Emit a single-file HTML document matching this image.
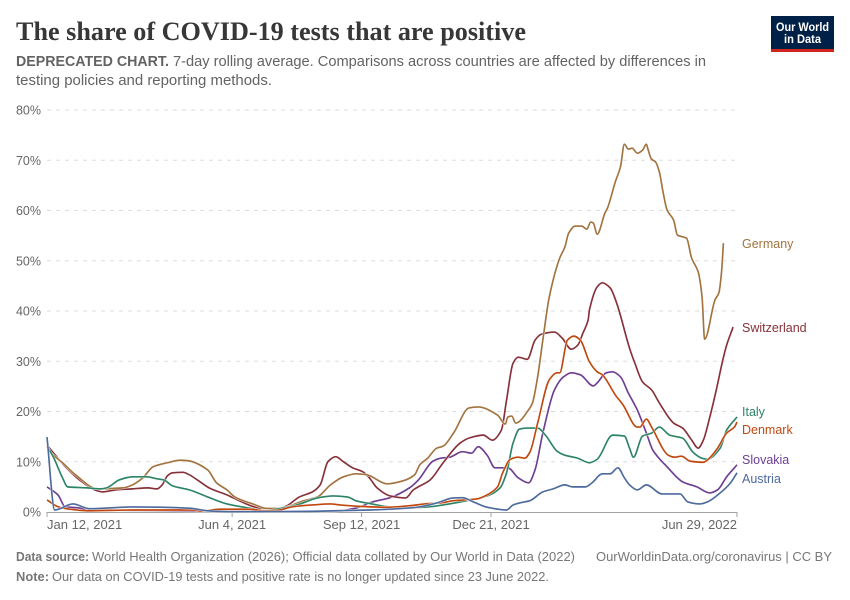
<!DOCTYPE html>
<html lang="en">
<head>
<meta charset="utf-8">
<title>The share of COVID-19 tests that are positive</title>
<style>
html,body{margin:0;padding:0;background:#fff;}
svg{display:block;font-family:"Liberation Sans",sans-serif;}
</style>
</head>
<body>
<svg id="chart" width="850" height="600" viewBox="0 0 850 600" xmlns="http://www.w3.org/2000/svg">
  <rect width="850" height="600" fill="#fff"/>
  <text x="16" y="40" font-family="'Liberation Serif',serif" font-weight="700" font-size="26" fill="#373737" textLength="510" lengthAdjust="spacingAndGlyphs">The share of COVID-19 tests that are positive</text>
  <text x="16" y="66" font-size="14.5" font-weight="700" fill="#636363" textLength="153" lengthAdjust="spacingAndGlyphs">DEPRECATED CHART.</text>
  <text x="173" y="66" font-size="14.5" fill="#636363" textLength="533" lengthAdjust="spacingAndGlyphs">7-day rolling average. Comparisons across countries are affected by differences in</text>
  <text x="16" y="85" font-size="14.5" fill="#636363" textLength="256" lengthAdjust="spacingAndGlyphs">testing policies and reporting methods.</text>

  <g>
    <rect x="771" y="16" width="63" height="36" fill="#002147"/>
    <rect x="771" y="49" width="63" height="3" fill="#ce261e"/>
    <text x="802.5" y="31" font-size="11.5" font-weight="700" fill="#fff" text-anchor="middle" textLength="53" lengthAdjust="spacingAndGlyphs">Our World</text>
    <text x="802.5" y="43" font-size="11.5" font-weight="700" fill="#fff" text-anchor="middle" textLength="37" lengthAdjust="spacingAndGlyphs">in Data</text>
  </g>

  <g id="grid"></g>
  <g id="xaxis"></g>
  <g id="series"></g>
  <g id="labels"></g>

  <text x="16" y="561" font-size="13" font-weight="700" fill="#777777" textLength="73" lengthAdjust="spacingAndGlyphs">Data source:</text>
  <text x="92" y="561" font-size="13" fill="#777777" textLength="483" lengthAdjust="spacingAndGlyphs">World Health Organization (2026); Official data collated by Our World in Data (2022)</text>
  <text x="596" y="561" font-size="13" fill="#777777" textLength="236" lengthAdjust="spacingAndGlyphs">OurWorldinData.org/coronavirus | CC BY</text>
  <text x="16" y="581" font-size="13" font-weight="700" fill="#777777" textLength="33" lengthAdjust="spacingAndGlyphs">Note:</text>
  <text x="52" y="581" font-size="13" fill="#777777" textLength="497" lengthAdjust="spacingAndGlyphs">Our data on COVID-19 tests and positive rate is no longer updated since 23 June 2022.</text>
</svg>

<script>
// Axis data (x values are days since 12 January 2021)
const yTickValues = [0, 10, 20, 30, 40, 50, 60, 70, 80];
const xTickDays = [0, 143, 243, 343, 533];
const xTickLabels = ["Jan 12, 2021", "Jun 4, 2021", "Sep 12, 2021", "Dec 21, 2021", "Jun 29, 2022"];

// Series data
const slovakiaDays = [0,8.5,14,25,33,72,118,172,224,239,252,265,280,287,298,304,311,321,328,333,340,346,352,356,364,372,377,383,392,399,405,412,422,425,432,437,443,449,456,463,468,479,491,502,512,518,525,531,533];
const slovakiaValues = [5,3.4,1.05,0.8,0.4,0.3,0.2,0.1,0.2,0.8,2.05,2.85,4.8,6.4,10.1,10.7,10.9,12,11.7,13,11.3,8.8,8.8,8.8,6.8,5.8,8.4,15.7,24.3,26.9,27.7,27.3,25.1,25.7,27.7,27.9,26.9,23.7,20.3,15.7,12.3,9,6,5,3.8,4.4,7,8.8,9.4];

const switzerlandDays = [0,8.5,15,25,39,43,53,66,78,85,89,93,97,105,110,116,126,139,144,159,170,178,185,195,205,211,217,223,229,236,244,249,255,265,277,283,296,306,319,327,337,344,351,355,360,364,371,377,382,392,398,405,410,414,418,419,425,429,435,440,450,454,460,467,473,484,491,498,503,507,512,517,522,525,530];
const switzerlandValues = [13.3,10.7,8.8,6.4,4.2,4,4.4,4.6,4.8,4.6,5.4,7.2,7.8,7.9,7.4,6.4,4.7,3.4,2.8,1.1,0.4,0.6,1.2,3,4,5.4,10,11,10,8.8,8,6.8,4.8,3.2,2.8,4.4,6.4,9.8,13.7,14.8,15.3,14.3,16.3,22.3,29.6,30.8,30.4,34.2,35.4,35.8,34.6,32.4,33.2,35.6,38.2,40.2,44.8,45.6,44.6,41.6,32.6,29.7,25.9,24.3,21.7,17.7,16.7,14.3,12.7,14.3,18.9,24.3,30.2,33.2,36.8];

const germanyDays = [0,3,12,22,39,59,66,74,82,93,103,109,124,131,139,145,159,170,180,185,198,209,219,229,239,247,263,275,284,288,294,301,306,314,326,333,348,354,356,359,362,373,375,379,383,388,396,400,403,408,413,417,420,422,425,431,433,439,443,446,449,452,456,460,463,464,467,470,473,476,479,484,487,494,498,503,506,508,516,519,521,522.5];
const germanyValues = [13,11.8,9.8,7.4,4.6,4.8,5.4,6.8,9,9.8,10.3,10.2,8.4,5.8,4.4,3,1.6,0.7,0.7,1,2.2,3,5.4,7,7.6,7.4,5.6,6.2,7.4,9.4,10.7,12.7,13.1,15.7,20.7,20.9,19.3,17.5,18.9,19.1,17.7,20.7,21.7,26.9,34.2,42.8,50.5,52.7,55.5,56.9,56.9,56.3,57.7,57.5,55.3,59.5,60.5,65.7,68.7,73.2,72.2,72.4,71.4,72,73.2,72.4,70.2,69.7,67.7,63.5,60.1,58.1,55.1,54.5,50.5,47.8,42.8,34.4,42.2,43.6,47.6,53.5];

const italyDays = [1,5,12,16,31,41,46,56,66,77,85,90,97,110,124,139,151,170,178,193,209,221,232,239,249,263,280,294,306,327,340,350,355,360,365,371,379,385,394,400,410,419,425,437,446,450,453,460,467,473,481,491,499,506,510,520,525,533];
const italyValues = [12.7,10.9,6.8,5,4.8,4.6,4.8,6.4,7,7,6.6,6.4,5.2,4.4,3,1.6,1,0.3,0.6,1.4,2.8,3.2,3,2.2,1.7,1.05,0.85,1,1.4,2.4,3.2,4.8,7.8,13.7,16.5,16.7,16.7,15.3,12.1,11.3,10.7,9.8,10.5,15.3,15.1,12.7,10.9,15.1,15.7,16.9,15.3,14.7,11.9,10.7,10.5,12.7,16.3,18.9];

const denmarkDays = [0,8.5,15,31,66,113,118,134,157,167,178,190,205,219,226,247,263,280,294,304,314,332,340,348,352,358,364,369,373,379,388,394,396,402,407,412,419,425,429,439,445,456,458,463,467,480,485,490,497,507,510,518,525,531,533];
const denmarkValues = [2.4,1.05,0.65,0.25,0.4,0.4,0.2,0.55,0.55,0.25,0.35,1.05,1.4,1.6,1.4,1.05,0.95,1.25,1.65,1.8,2.25,2.6,3.4,5,7.8,10.5,10.9,10.7,11.9,17.7,26.3,27.7,27.7,34.2,35,34.2,29.9,27.9,27.3,23.3,21.3,16.9,16.9,18.5,16.9,11.3,10.9,11.1,10.1,9.9,10.3,12.7,15.7,16.9,17.9];

const austriaDays = [0,6,20,33,66,87,110,124,144,195,224,249,283,301,314,321,329,340,355,360,365,373,383,391,400,406,416,421,429,435,441,446,450,456,463,475,489,495,504,510,520,528,533];
const austriaValues = [14.9,0.4,1.6,0.65,1,0.95,0.75,0.25,0.05,0.1,0.25,0.4,0.85,1.8,2.8,2.85,2.05,0.95,0.4,1.4,1.8,2.25,4,4.6,5.4,5,5,5.8,7.6,7.6,8.8,6.8,5.4,4.4,5.4,3.6,3.6,2,1.6,2,3.8,5.8,7.8];

const NS = "http://www.w3.org/2000/svg";
const plot = { left: 47, right: 737, bottom: 512, top: 110, maxDay: 533, maxValue: 80 };

function xScale(day) {
  return plot.left + (day / plot.maxDay) * (plot.right - plot.left);
}
function yScale(value) {
  return plot.bottom - (value / plot.maxValue) * (plot.bottom - plot.top);
}

// Monotone cubic path through the data points
function linePath(days, values) {
  const xs = days.map(xScale);
  const ys = values.map(yScale);
  const n = xs.length;
  const slopes = [];
  for (let i = 0; i < n - 1; i++) {
    slopes.push((ys[i + 1] - ys[i]) / (xs[i + 1] - xs[i]));
  }
  const tangents = [slopes[0]];
  for (let i = 1; i < n - 1; i++) {
    const a = slopes[i - 1];
    const b = slopes[i];
    tangents.push(a * b <= 0 ? 0 : (2 * a * b) / (a + b));
  }
  tangents.push(slopes[n - 2]);
  let d = "M" + xs[0].toFixed(2) + "," + ys[0].toFixed(2);
  for (let i = 0; i < n - 1; i++) {
    const h = (xs[i + 1] - xs[i]) / 3;
    d += "C" + (xs[i] + h).toFixed(2) + "," + (ys[i] + tangents[i] * h).toFixed(2) +
         " " + (xs[i + 1] - h).toFixed(2) + "," + (ys[i + 1] - tangents[i + 1] * h).toFixed(2) +
         " " + xs[i + 1].toFixed(2) + "," + ys[i + 1].toFixed(2);
  }
  return d;
}

// Y axis: gridlines and labels
const gridGroup = document.getElementById("grid");
yTickValues.forEach(function (v) {
  if (v > 0) {
    const line = document.createElementNS(NS, "line");
    
    
    line.setAttribute("x1", plot.left);
    line.setAttribute("x2", plot.right);
    line.setAttribute("y1", yScale(v));
    line.setAttribute("y2", yScale(v));
    line.setAttribute("stroke", "#dddddd");
    line.setAttribute("stroke-dasharray", "4 5");
    gridGroup.appendChild(line);
  }
  const label = document.createElementNS(NS, "text");
  
  
  label.setAttribute("x", 41);
  label.setAttribute("y", yScale(v) + 4.5);
  label.setAttribute("text-anchor", "end");
  label.setAttribute("font-size", "12.5");
  label.setAttribute("fill", "#666666");
  label.textContent = v + "%";
  gridGroup.appendChild(label);
});

// X axis: baseline, ticks and labels
const xGroup = document.getElementById("xaxis");
const baseline = document.createElementNS(NS, "line");


baseline.setAttribute("x1", plot.left);
baseline.setAttribute("x2", plot.right);
baseline.setAttribute("y1", plot.bottom + 0.5);
baseline.setAttribute("y2", plot.bottom + 0.5);
baseline.setAttribute("stroke", "#a1a1a1");
xGroup.appendChild(baseline);
xTickDays.forEach(function (day, i) {
  const x = xScale(day);
  const tick = document.createElementNS(NS, "line");
  
  
  tick.setAttribute("x1", x);
  tick.setAttribute("x2", x);
  tick.setAttribute("y1", plot.bottom);
  tick.setAttribute("y2", plot.bottom + 5);
  tick.setAttribute("stroke", "#a1a1a1");
  xGroup.appendChild(tick);
  const label = document.createElementNS(NS, "text");
  
  
  label.setAttribute("x", x);
  label.setAttribute("y", 529);
  label.setAttribute("text-anchor", i === 0 ? "start" : (i === xTickDays.length - 1 ? "end" : "middle"));
  label.setAttribute("font-size", "13");
  label.setAttribute("fill", "#666666");
  label.textContent = xTickLabels[i];
  xGroup.appendChild(label);
});

// Series lines, drawn back to front
const seriesGroup = document.getElementById("series");
const labelGroup = document.getElementById("labels");

function drawSeries(name, days, values, color) {
  const halo = document.createElementNS(NS, "path");
  
  
  halo.setAttribute("d", linePath(days, values));
  halo.setAttribute("fill", "none");
  halo.setAttribute("stroke", "#ffffff");
  halo.setAttribute("stroke-width", "2.4");
  halo.setAttribute("stroke-linejoin", "round");
  seriesGroup.appendChild(halo);
  const path = document.createElementNS(NS, "path");
  
  
  path.setAttribute("aria-label", name);
  path.setAttribute("d", linePath(days, values));
  path.setAttribute("fill", "none");
  path.setAttribute("stroke", color);
  path.setAttribute("stroke-width", "1.65");
  path.setAttribute("stroke-linejoin", "round");
  seriesGroup.appendChild(path);
}

function drawLabel(name, baselineY, color) {
  const label = document.createElementNS(NS, "text");
  
  
  label.setAttribute("x", 742);
  label.setAttribute("y", baselineY);
  label.setAttribute("font-size", "12.5");
  label.setAttribute("fill", color);
  label.textContent = name;
  labelGroup.appendChild(label);
}

drawSeries("Slovakia", slovakiaDays, slovakiaValues, "#6d3e91");
drawSeries("Switzerland", switzerlandDays, switzerlandValues, "#883039");
drawSeries("Germany", germanyDays, germanyValues, "#a2733f");
drawSeries("Italy", italyDays, italyValues, "#2c8465");
drawSeries("Denmark", denmarkDays, denmarkValues, "#c0480f");
drawSeries("Austria", austriaDays, austriaValues, "#4c6a9c");

drawLabel("Germany", 248, "#a2733f");
drawLabel("Switzerland", 332, "#883039");
drawLabel("Italy", 416, "#2c8465");
drawLabel("Denmark", 434, "#c0480f");
drawLabel("Slovakia", 464, "#6d3e91");
drawLabel("Austria", 483, "#4c6a9c");
</script>
</body>
</html>
